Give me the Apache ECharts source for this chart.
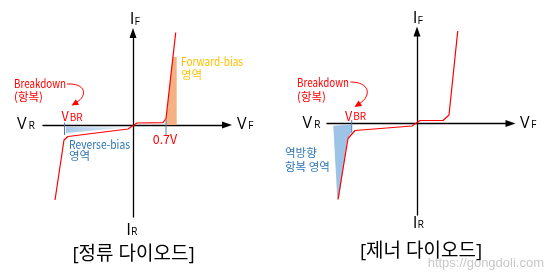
<!DOCTYPE html>
<html><head><meta charset="utf-8">
<script src="https://cdn.jsdelivr.net/npm/echarts@6/dist/echarts.min.js"></script>
<style>html,body{margin:0;padding:0;background:#fff}#c{width:544px;height:279px}</style>
</head><body><div id="c"></div>
<script>
// ---- data (arbitrary schematic units: voltage V, current I) ----
const rectV = [-78, -69, -65, -5, 4, 30, 33, 43];
const rectI = [-75, -15, -11.5, -4, 2, 2.3, 6.5, 95];
const zenerV = [-79, -69, -62, -5, 3, 26, 32, 41];
const zenerI = [-76, -15, -7, -2.5, 3, 3, 8.5, 95];
const reverseFillV = [-67, -5, -67];
const reverseFillI = [-2, -2.5, -8];
const forwardFillV = [33, 33, 39.7, 43.7, 43.7];
const forwardFillI = [0, 6.5, 68, 68, 0];
const zenerFillV = [-83.7, -65.3, -66, -69.7, -77.7, -79.7];
const zenerFillI = [-2.2, -1, -9.5, -15.8, -73.5, -75.8];
const rectVbrTickV = [-68.5, -68.5];
const rectVbrTickI = [2.3, -10];
const fwdTickV = [33, 33];
const fwdTickI = [5, -10];
const zenerVbrTickV = [-65.3, -65.3];
const zenerVbrTickI = [3.5, -9.2];
const titles = ['[정류 다이오드]', '[제너 다이오드]'];

const FONT = '"Open Sans","Noto Sans CJK KR",sans-serif';
const AFONT = '"Noto Sans CJK KR",sans-serif';
const RED = '#ff0000', BLUE = '#2e75b6', TICK = '#4a7ebb', GOLD = '#ffc000';

function pairs(a, b) { return a.map((v, i) => [v, b[i]]); }

function axes(idx, xmin, xmax, ymin, ymax) {
  const line = { show: true, onZero: true, symbol: ['none', 'triangle'], symbolSize: [7, 10],
    lineStyle: { color: '#000', width: 1.3 } };
  return {
    x: { type: 'value', gridIndex: idx, min: xmin, max: xmax, axisLine: line,
      axisTick: { show: false }, axisLabel: { show: false }, splitLine: { show: false } },
    y: { type: 'value', gridIndex: idx, min: ymin, max: ymax, axisLine: line,
      axisTick: { show: false }, axisLabel: { show: false }, splitLine: { show: false } }
  };
}
const a0 = axes(0, -90, 94, -92, 92);
const a1 = axes(1, -90, 93.5, -91.5, 92);

function polySeries(idx, vs, is, fill, z) {
  return {
    type: 'custom', xAxisIndex: idx, yAxisIndex: idx, z: z, silent: true,
    data: [[vs[0], is[0]]],
    renderItem: function (params, api) {
      return { type: 'polygon', shape: { points: vs.map((v, i) => api.coord([v, is[i]])) },
        style: { fill: fill } };
    }
  };
}
function lineSeries(idx, vs, is, color, width, z) {
  return { type: 'line', xAxisIndex: idx, yAxisIndex: idx, data: pairs(vs, is), z: z,
    symbol: 'none', silent: true, lineStyle: { color: color, width: width } };
}

const mctx = document.createElement('canvas').getContext('2d');
function txt(x, y, s, size, color, align, family, fitWidth) {
  const fam = family || FONT;
  let sx = 1;
  if (fitWidth) {
    mctx.font = size + 'px ' + fam;
    const w = mctx.measureText(s).width;
    if (w > 0) sx = fitWidth / w;
  }
  return { type: 'text', x: x, y: y, scaleX: sx, z: 100, silent: true,
    style: { text: s, fontSize: size, fontFamily: fam, fill: color,
      align: align || 'left', verticalAlign: 'middle' } };
}
function ann(x, y, s, size, color, align, fitWidth) { return txt(x, y, s, size, color, align, AFONT, fitWidth); }
function curvedArrow(p0, c1, c2, p1) {
  const dx = p1[0] - c2[0], dy = p1[1] - c2[1];
  const L = Math.hypot(dx, dy), ux = dx / L, uy = dy / L;
  const len = 7, hw = 3.2;
  const bx = p1[0] - ux * len, by = p1[1] - uy * len;
  return [
    { type: 'bezierCurve', z: 100, silent: true,
      shape: { x1: p0[0], y1: p0[1], cpx1: c1[0], cpy1: c1[1], cpx2: c2[0], cpy2: c2[1],
        x2: bx + ux * 2, y2: by + uy * 2 },
      style: { stroke: RED, lineWidth: 1, fill: null } },
    { type: 'polygon', z: 100, silent: true,
      shape: { points: [[p1[0], p1[1]], [bx - uy * hw, by + ux * hw], [bx + uy * hw, by - ux * hw]] },
      style: { fill: RED } }
  ];
}

const graphics = [].concat(
  // left axis labels
  txt(17, 124, 'V', 16, '#000'), txt(28.5, 126.3, 'R', 10.5, '#000'),
  txt(132, 19.5, 'I', 17, '#000', 'center'), txt(134.5, 22.5, 'F', 10.5, '#000'),
  txt(237, 124.5, 'V', 16, '#000'), txt(248, 126.5, 'F', 10.5, '#000'),
  txt(128.5, 230.5, 'I', 17, '#000', 'center'), txt(131, 232.3, 'R', 10.5, '#000'),
  ann(61.5, 116.5, 'V', 12.5, RED), ann(69.8, 117.2, 'BR', 10, RED),
  ann(152.7, 139, '0.7V', 12.5, RED, 'left', 24.5),
  ann(181, 61, 'Forward-bias', 12, GOLD, 'left', 62), ann(181, 75, '영역', 11.5, GOLD),
  ann(69, 144, 'Reverse-bias', 12, BLUE, 'left', 61), ann(69, 155.5, '영역', 11.5, BLUE),
  ann(14, 83, 'Breakdown', 12, RED, 'left', 52), ann(14, 96.5, '(항복)', 11.5, RED),
  txt(133.5, 255, titles[0], 19, '#000', 'center'),
  curvedArrow([67, 84], [85, 83], [89, 95], [71.5, 105.5]),
  // right axis labels
  txt(302.5, 123.3, 'V', 16, '#000'), txt(314, 125.5, 'R', 10.5, '#000'),
  txt(520, 123.5, 'V', 16, '#000'), txt(531, 125.5, 'F', 10.5, '#000'),
  txt(415, 18.3, 'I', 17, '#000', 'center'), txt(417.5, 21, 'F', 10.5, '#000'),
  txt(415, 223.5, 'I', 17, '#000', 'center'), txt(417.5, 225.2, 'R', 10.5, '#000'),
  ann(345, 116, 'V', 12.5, RED), ann(353.3, 116.7, 'BR', 10, RED),
  ann(297, 82.5, 'Breakdown', 12, RED, 'left', 52), ann(297, 96.5, '(항복)', 11.5, RED),
  ann(285, 153, '역방향', 11.5, BLUE), ann(285, 167, '항복 영역', 11.5, BLUE),
  txt(421, 252, titles[1], 19, '#000', 'center'),
  curvedArrow([350.5, 82], [369, 82], [373, 95], [354.5, 107]),
  txt(544, 263, 'https://gongdoli.com', 13, '#c8c8c8', 'right', '"Liberation Sans",sans-serif')
);

const chart = echarts.init(document.getElementById('c'), null, { renderer: 'canvas' });
chart.setOption({
  animation: false,
  backgroundColor: '#fff',
  grid: [
    { left: 43, top: 33, width: 184, height: 184 },
    { left: 327, top: 31.5, width: 183.5, height: 183.5 }
  ],
  xAxis: [a0.x, a1.x],
  yAxis: [a0.y, a1.y],
  series: [
    polySeries(0, reverseFillV, reverseFillI,
      new echarts.graphic.LinearGradient(0, 0, 1, 0, [{ offset: 0, color: '#a9c9ea' }, { offset: 1, color: '#e6eff9' }]), 1),
    polySeries(0, forwardFillV, forwardFillI, '#f4b183', 1),
    polySeries(1, zenerFillV, zenerFillI, '#9dc3e6', 1),
    lineSeries(0, rectV, rectI, RED, 1.2, 3),
    lineSeries(1, zenerV, zenerI, RED, 1.2, 3),
    lineSeries(0, rectVbrTickV, rectVbrTickI, TICK, 1, 4),
    lineSeries(0, fwdTickV, fwdTickI, TICK, 1, 4),
    lineSeries(1, zenerVbrTickV, zenerVbrTickI, TICK, 1, 4)
  ],
  graphic: graphics
});
</script></body></html>
